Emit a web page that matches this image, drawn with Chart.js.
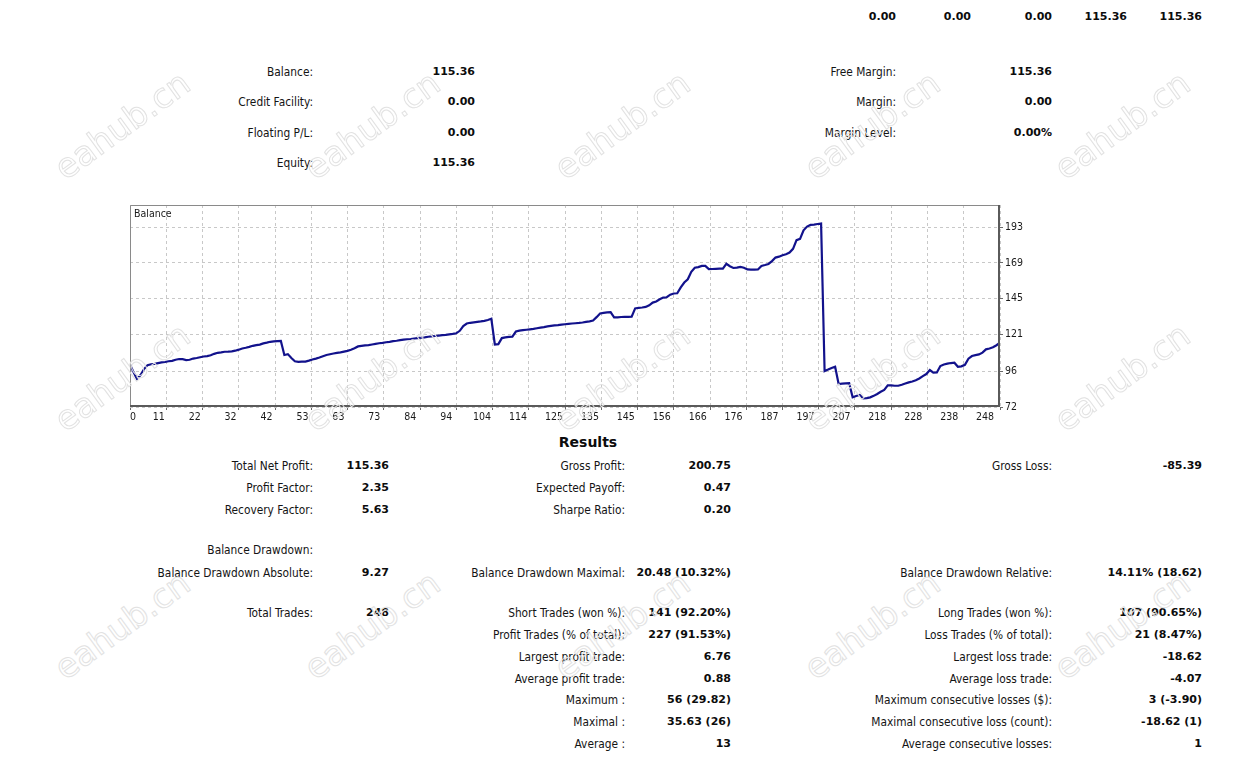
<!DOCTYPE html>
<html>
<head>
<meta charset="utf-8">
<title>Balance</title>
<script src="https://cdn.jsdelivr.net/npm/chart.js@4.4.1/dist/chart.umd.min.js"></script>
<style>
  html, body { margin: 0; padding: 0; background: #fff; overflow: hidden; }
  body { width: 1251px; height: 761px; position: relative; font-family: "DejaVu Sans Condensed", "DejaVu Sans", sans-serif; color: #141414; }
  .t { position: absolute; width: 400px; text-align: right; line-height: 16px; height: 16px; white-space: nowrap; font-size: 11.8px; }
  .b { font-family: "DejaVu Sans", sans-serif; font-weight: bold; font-size: 11px; color: #0c0c0c; }
  .head { position: absolute; left: 488px; top: 433px; width: 200px; text-align: center; font-family: "DejaVu Sans", sans-serif; font-weight: bold; font-size: 14px; line-height: 18px; color: #0c0c0c; }
  #wrap { position: absolute; left: 100px; top: 195px; width: 960px; height: 235px; }
  #cap { position: absolute; left: 134px; top: 206px; font-size: 10.5px; line-height: 14px; color: #1a1a1a; }
  .wm { position: absolute; width: 200px; text-align: center; font-family: "DejaVu Sans", sans-serif; font-size: 34px; line-height: 40px;
        color: transparent; -webkit-text-stroke: 1px #e2e2e2; transform: rotate(-36deg); pointer-events: none; }
</style>
</head>
<body>
<div id="wrap"><canvas id="balanceChart"></canvas></div>
<div id="cap">Balance</div>
<div class="head">Results</div>
<script>
// balance after each trade
const balance = [
  100.6, 95.5, 90.8, 93.5, 97.5, 100.2, 100.8, 101.0, 101.5, 102.0,
  102.3, 102.8, 103.1, 103.8, 104.3, 104.2, 103.6, 103.8, 104.6, 105.0,
  105.5, 106.0, 106.3, 106.8, 107.8, 108.5, 108.8, 109.2, 109.3, 109.5,
  109.9, 110.6, 111.4, 111.9, 112.5, 113.2, 113.7, 114.0, 114.8, 115.3,
  115.9, 116.2, 116.4, 116.5, 107.0, 107.6, 105.0, 102.8, 102.4, 102.5,
  102.6, 103.2, 104.0, 104.6, 105.3, 106.2, 107.0, 107.5, 108.0, 108.4,
  108.8, 109.3, 109.8, 110.5, 111.6, 112.8, 113.2, 113.5, 113.7, 114.1,
  114.5, 114.9, 115.2, 115.6, 115.9, 116.3, 116.6, 117.0, 117.3, 117.6,
  117.8, 118.1, 118.4, 118.7, 118.9, 119.3, 119.5, 119.8, 120.1, 120.4,
  120.6, 120.9, 121.2, 121.6, 123.3, 126.5, 128.2, 128.7, 129.0, 129.3,
  129.6, 130.0, 130.6, 131.4, 114.1, 114.3, 118.4, 118.9, 119.2, 119.4,
  122.8, 123.4, 123.7, 124.0, 124.3, 124.6, 125.0, 125.4, 125.8, 126.3,
  126.6, 126.9, 127.1, 127.4, 127.7, 128.0, 128.2, 128.4, 128.6, 128.9,
  129.3, 129.7, 130.2, 132.5, 135.0, 135.4, 135.7, 135.8, 132.3, 132.4,
  132.6, 132.7, 132.7, 132.8, 138.4, 138.8, 139.0, 139.4, 140.5, 142.3,
  143.0, 144.5, 145.7, 145.9, 147.6, 148.4, 148.6, 152.5, 155.8, 158.0,
  163.0, 165.8, 166.2, 167.0, 167.0, 164.8, 164.9, 165.0, 165.1, 165.2,
  168.4, 166.8, 165.6, 165.8, 166.3, 165.8, 164.6, 164.5, 164.5, 164.6,
  167.0, 167.6, 168.3, 170.2, 172.6, 173.2, 174.2, 174.8, 176.0, 178.5,
  184.3, 185.2, 191.0, 193.5, 194.6, 194.8, 195.2, 195.5, 96.2, 97.2,
  98.3, 99.1, 87.5, 87.7, 87.9, 88.0, 78.5, 79.4, 80.1, 77.8,
  78.0, 78.5, 79.5, 80.8, 82.3, 83.5, 86.6, 86.5, 86.3, 86.3,
  87.0, 87.8, 88.6, 89.2, 90.0, 91.2, 92.8, 94.2, 96.9, 95.1,
  95.2, 99.6, 100.6, 101.2, 101.6, 101.8, 99.1, 99.4, 100.4, 104.5,
  106.3, 106.9, 107.4, 108.6, 110.8, 111.4, 112.2, 113.6, 115.36
];
const xTickLabels = [0, 11, 22, 32, 42, 53, 63, 73, 84, 94, 104, 114, 125, 135, 145, 156, 166, 176, 187, 197, 207, 218, 228, 238, 248];
const yTickLabels = [72, 96, 121, 145, 169, 193];
const lastTrade = 248;

// report text: [text, right edge px, centre y px, bold]
const summaryRows = [
  ['0.00', 896, 17, 1], ['0.00', 971, 17, 1], ['0.00', 1052, 17, 1], ['115.36', 1127, 17, 1], ['115.36', 1202, 17, 1],
  ['Balance:', 313, 72, 0], ['115.36', 475, 72, 1], ['Free Margin:', 896, 72, 0], ['115.36', 1052, 72, 1],
  ['Credit Facility:', 313, 102, 0], ['0.00', 475, 102, 1], ['Margin:', 896, 102, 0], ['0.00', 1052, 102, 1],
  ['Floating P/L:', 313, 133, 0], ['0.00', 475, 133, 1], ['Margin Level:', 896, 133, 0], ['0.00%', 1052, 133, 1],
  ['Equity:', 313, 163, 0], ['115.36', 475, 163, 1]
];
const resultRows = [
  ['Total Net Profit:', 313, 466, 0], ['115.36', 389, 466, 1], ['Gross Profit:', 625, 466, 0], ['200.75', 731, 466, 1], ['Gross Loss:', 1052, 466, 0], ['-85.39', 1202, 466, 1],
  ['Profit Factor:', 313, 488, 0], ['2.35', 389, 488, 1], ['Expected Payoff:', 625, 488, 0], ['0.47', 731, 488, 1],
  ['Recovery Factor:', 313, 510, 0], ['5.63', 389, 510, 1], ['Sharpe Ratio:', 625, 510, 0], ['0.20', 731, 510, 1],
  ['Balance Drawdown:', 313, 550, 0],
  ['Balance Drawdown Absolute:', 313, 573, 0], ['9.27', 389, 573, 1], ['Balance Drawdown Maximal:', 625, 573, 0], ['20.48 (10.32%)', 731, 573, 1], ['Balance Drawdown Relative:', 1052, 573, 0], ['14.11% (18.62)', 1202, 573, 1],
  ['Total Trades:', 313, 613, 0], ['248', 389, 613, 1], ['Short Trades (won %):', 625, 613, 0], ['141 (92.20%)', 731, 613, 1], ['Long Trades (won %):', 1052, 613, 0], ['107 (90.65%)', 1202, 613, 1],
  ['Profit Trades (% of total):', 625, 635, 0], ['227 (91.53%)', 731, 635, 1], ['Loss Trades (% of total):', 1052, 635, 0], ['21 (8.47%)', 1202, 635, 1],
  ['Largest profit trade:', 625, 657, 0], ['6.76', 731, 657, 1], ['Largest loss trade:', 1052, 657, 0], ['-18.62', 1202, 657, 1],
  ['Average profit trade:', 625, 679, 0], ['0.88', 731, 679, 1], ['Average loss trade:', 1052, 679, 0], ['-4.07', 1202, 679, 1],
  ['Maximum :', 625, 700, 0], ['56 (29.82)', 731, 700, 1], ['Maximum consecutive losses ($):', 1052, 700, 0], ['3 (-3.90)', 1202, 700, 1],
  ['Maximal :', 625, 722, 0], ['35.63 (26)', 731, 722, 1], ['Maximal consecutive loss (count):', 1052, 722, 0], ['-18.62 (1)', 1202, 722, 1],
  ['Average :', 625, 744, 0], ['13', 731, 744, 1], ['Average consecutive losses:', 1052, 744, 0], ['1', 1202, 744, 1]
];

summaryRows.concat(resultRows).forEach(function (r) {
  const d = document.createElement('div');
  d.className = r[3] ? 't b' : 't';
  d.textContent = r[0];
  d.style.left = (r[1] - 400) + 'px';
  d.style.top = (r[2] - 8) + 'px';
  document.body.appendChild(d);
});

// faint site watermark, three rows of five
[125, 377, 625].forEach(function (cy) {
  [122, 372, 622, 872, 1122].forEach(function (cx) {
    const w = document.createElement('div');
    w.className = 'wm';
    w.textContent = 'eahub.cn';
    w.style.left = (cx - 100) + 'px';
    w.style.top = (cy - 20) + 'px';
    document.body.appendChild(w);
  });
});

// box round the plot: light top/left, heavier right/bottom like the MT4 image
const frame = {
  id: 'frame',
  afterDraw(chart) {
    const a = chart.chartArea, ctx = chart.ctx;
    ctx.save();
    ctx.strokeStyle = '#8a8a8a';
    ctx.lineWidth = 1;
    ctx.beginPath();
    ctx.moveTo(a.left + 0.5, a.bottom);
    ctx.lineTo(a.left + 0.5, a.top + 0.5);
    ctx.lineTo(a.right, a.top + 0.5);
    ctx.stroke();
    ctx.strokeStyle = '#5a5a5a';
    ctx.lineWidth = 2;
    ctx.beginPath();
    ctx.moveTo(a.left, a.bottom - 1);
    ctx.lineTo(a.right - 1, a.bottom - 1);
    ctx.lineTo(a.right - 1, a.top);
    ctx.stroke();
    ctx.restore();
  }
};

const gridStyle = { color: '#c8c8c8', tickColor: '#6a6a6a', tickLength: 3, lineWidth: 1 };

new Chart(document.getElementById('balanceChart'), {
  type: 'line',
  data: {
    datasets: [{
      label: 'Balance',
      data: balance.map((v, i) => ({ x: i, y: v })),
      borderColor: '#12128c',
      borderWidth: 2.2,
      pointRadius: 0,
      tension: 0,
      fill: false
    }]
  },
  options: {
    responsive: true,
    maintainAspectRatio: false,
    animation: false,
    layout: { padding: { left: 30, top: 10, right: 0, bottom: 0 } },
    plugins: { legend: { display: false }, tooltip: { enabled: false } },
    scales: {
      x: {
        type: 'linear', position: 'bottom', min: 0, max: lastTrade,
        afterBuildTicks: s => { s.ticks = xTickLabels.map((_, i) => ({ value: i * lastTrade / (xTickLabels.length - 1) })); },
        afterFit: s => { s.height = 4; },
        ticks: { display: false },
        grid: gridStyle,
        border: { display: false, dash: [3, 3] }
      },
      xLab: {
        type: 'linear', position: 'bottom', min: 0, max: lastTrade,
        // MT4 draws the trade numbers slightly left of each grid line
        afterBuildTicks: s => {
          const pxPerTrade = 870 / lastTrade;
          s.ticks = xTickLabels.map((_, i) => ({ value: i === 0 ? 3 / pxPerTrade : (-7.2 + 35.93 * i) / pxPerTrade }));
        },
        afterFit: s => { s.height = 19; },
        ticks: {
          autoSkip: false, maxRotation: 0, padding: 0,
          color: '#1a1a1a', font: { family: 'DejaVu Sans Condensed', size: 10.5 },
          callback: (v, i) => xTickLabels[i]
        },
        grid: { display: false, drawTicks: false },
        border: { display: false }
      },
      y: {
        type: 'linear', position: 'right', min: 72, max: 208,
        afterBuildTicks: s => { s.ticks = yTickLabels.map(v => ({ value: v })); },
        afterFit: s => { s.width = 60; },
        ticks: { padding: 2, color: '#1a1a1a', font: { family: 'DejaVu Sans Condensed', size: 10.5 } },
        grid: gridStyle,
        border: { display: false, dash: [3, 3] }
      }
    }
  },
  plugins: [frame]
});
</script>
</body>
</html>
